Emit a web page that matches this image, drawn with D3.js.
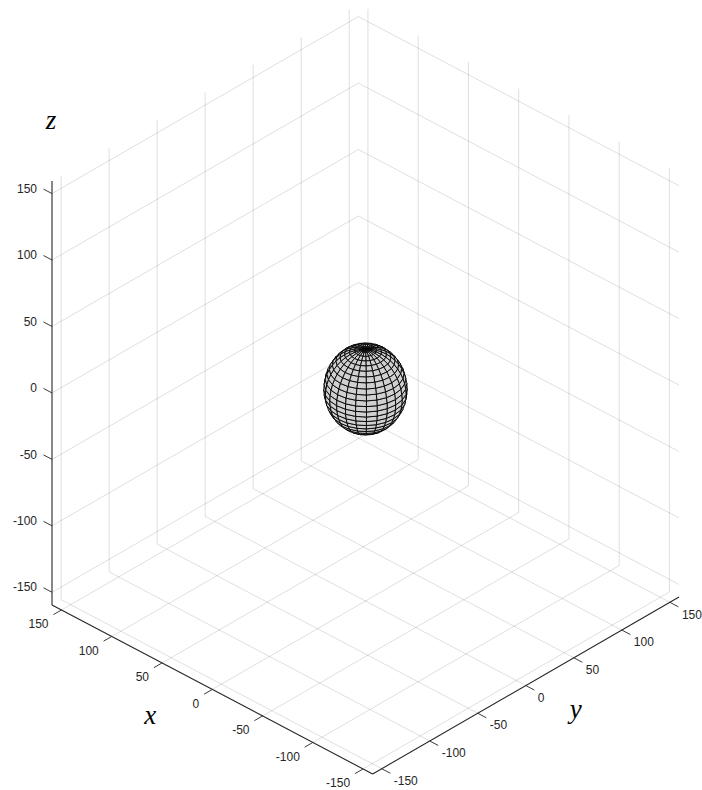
<!DOCTYPE html>
<html>
<head>
<meta charset="utf-8">
<script src="https://cdn.jsdelivr.net/npm/d3@7"></script>
<style>
  html, body { margin: 0; padding: 0; background: #ffffff; }
  svg { display: block; }
  .tick-label { font-family: "Liberation Sans", Arial, Helvetica, sans-serif; font-size: 12px; fill: #262626; }
  .axis-title { font-family: "Liberation Serif", "Times New Roman", serif; font-style: italic; font-size: 27px; fill: #000; }
</style>
</head>
<body>
<svg id="chart" width="702" height="790"></svg>
<script>
// Axis limits (same for x, y and z) and tick values
const axisLimits = [-159.5, 159.5];
const xTicks = [-150, -100, -50, 0, 50, 100, 150];
const yTicks = [-150, -100, -50, 0, 50, 100, 150];
const zTicks = [-150, -100, -50, 0, 50, 100, 150];

// Sphere drawn as a meshed surface
const sphereCenter = [0, 0, 0];
const sphereRadius = 30;
const sphereLonSegments = 24;
const sphereLatSegments = 24;

// Camera: azimuth of the viewpoint and elevation, degrees
const viewAzimuth = 43.7;
const viewElevation = 30;

const svg = d3.select("#chart");

// Data -> normalised cube [-1, 1]
const nx = d3.scaleLinear().domain(axisLimits).range([-1, 1]);
const ny = d3.scaleLinear().domain(axisLimits).range([-1, 1]);
const nz = d3.scaleLinear().domain(axisLimits).range([-1, 1]);

const a = viewAzimuth * Math.PI / 180, e = viewElevation * Math.PI / 180;
const rowH = [-Math.cos(a), Math.sin(a), 0];
const rowV = [Math.sin(e) * Math.sin(a), Math.sin(e) * Math.cos(a), Math.cos(e)];
const rowD = [-Math.cos(e) * Math.sin(a), -Math.cos(e) * Math.cos(a), Math.sin(e)];

function camera(p) {
  const u = [nx(p[0]), ny(p[1]), nz(p[2])];
  return {
    h: rowH[0] * u[0] + rowH[1] * u[1] + rowH[2] * u[2],
    v: rowV[0] * u[0] + rowV[1] * u[1] + rowV[2] * u[2],
    d: rowD[0] * u[0] + rowD[1] * u[1] + rowD[2] * u[2]
  };
}

// Plot box fills the frame: screen scales from the projected box corners
const corners = [];
for (const X of axisLimits) for (const Y of axisLimits) for (const Z of axisLimits) corners.push(camera([X, Y, Z]));
const hExt = d3.extent(corners, c => c.h), vExt = d3.extent(corners, c => c.v);
const sx = d3.scaleLinear().domain(hExt).range([52, 679]);
const sy = d3.scaleLinear().domain(vExt).range([774, 4]);

function proj(p) { const c = camera(p); return [sx(c.h), sy(c.v)]; }
const line = d3.line();

const [lo, hi] = axisLimits;

// ---- Grid on the three back planes ----
const grid = svg.append("g")
  .attr("fill", "none").attr("stroke", "#262626")
  .attr("stroke-opacity", 0.15).attr("stroke-width", 1);
const gridSegs = [];
// wall x = hi
yTicks.forEach(y => gridSegs.push([[hi, y, lo], [hi, y, hi]]));
zTicks.forEach(z => gridSegs.push([[hi, lo, z], [hi, hi, z]]));
// wall y = hi
xTicks.forEach(x => gridSegs.push([[x, hi, lo], [x, hi, hi]]));
zTicks.forEach(z => gridSegs.push([[lo, hi, z], [hi, hi, z]]));
// floor z = lo
xTicks.forEach(x => gridSegs.push([[x, lo, lo], [x, hi, lo]]));
yTicks.forEach(y => gridSegs.push([[lo, y, lo], [hi, y, lo]]));
grid.selectAll("path").data(gridSegs).join("path")
  .attr("d", s => line(s.map(proj)));

// ---- Sphere surface ----
const faces = [];
const pt = (i, j) => {
  const phi = -Math.PI / 2 + Math.PI * i / sphereLatSegments;
  const th = -Math.PI + 2 * Math.PI * j / sphereLonSegments;
  return [sphereCenter[0] + sphereRadius * Math.cos(phi) * Math.cos(th),
          sphereCenter[1] + sphereRadius * Math.cos(phi) * Math.sin(th),
          sphereCenter[2] + sphereRadius * Math.sin(phi)];
};
for (let i = 0; i < sphereLatSegments; i++) {
  for (let j = 0; j < sphereLonSegments; j++) {
    const q = [pt(i, j), pt(i + 1, j), pt(i + 1, j + 1), pt(i, j + 1)];
    const c = [0, 1, 2].map(k => d3.mean(q, p => p[k] - sphereCenter[k]));
    const facing = rowD[0] * c[0] + rowD[1] * c[1] + rowD[2] * c[2];
    if (facing < -0.5) continue;
    const depth = d3.mean(q, p => camera(p).d);
    faces.push({ q, depth });
  }
}
faces.sort((f1, f2) => f1.depth - f2.depth);
svg.append("g")
  .selectAll("path").data(faces).join("path")
  .attr("d", f => line(f.q.map(proj)) + "Z")
  .attr("fill", "#d0d0d0")
  .attr("stroke", "#000").attr("stroke-width", 0.9)
  .attr("stroke-linejoin", "round");

// ---- Axes ----
const axes = svg.append("g").attr("stroke", "#262626").attr("fill", "none");
const tickLen = 8.5;
// x axis along y = lo, z = lo
axes.append("path").attr("stroke-width", 1.1).attr("d", line([[hi, lo, lo], [lo, lo, lo]].map(proj)));
// y axis along x = lo, z = lo
axes.append("path").attr("stroke-width", 1.1).attr("d", line([[lo, lo, lo], [lo, hi, lo]].map(proj)));
// z axis along x = hi, y = lo
axes.append("path").attr("stroke-width", 1.1).attr("d", line([[hi, lo, lo], [hi, lo, hi]].map(proj)));

axes.selectAll(".xt").data(xTicks).join("path").attr("stroke-width", 0.9)
  .attr("d", v => line([[v, lo, lo], [v, lo - tickLen, lo]].map(proj)));
axes.selectAll(".yt").data(yTicks).join("path").attr("stroke-width", 0.9)
  .attr("d", v => line([[lo, v, lo], [lo - tickLen, v, lo]].map(proj)));
axes.selectAll(".zt").data(zTicks).join("path").attr("stroke-width", 0.9)
  .attr("d", v => line([[hi, lo, v], [hi + tickLen, lo, v]].map(proj)));

// ---- Tick labels ----
const labels = svg.append("g");
labels.selectAll(".xl").data(xTicks).join("text").attr("class", "tick-label")
  .attr("text-anchor", "end")
  .attr("x", v => proj([v, lo, lo])[0] - 13)
  .attr("y", v => proj([v, lo, lo])[1] + 14).attr("dy", "0.35em")
  .text(v => v);
labels.selectAll(".yl").data(yTicks).join("text").attr("class", "tick-label")
  .attr("text-anchor", "start")
  .attr("x", v => proj([lo, v, lo])[0] + 12)
  .attr("y", v => proj([lo, v, lo])[1] + 12).attr("dy", "0.35em")
  .text(v => v);
labels.selectAll(".zl").data(zTicks).join("text").attr("class", "tick-label")
  .attr("text-anchor", "end")
  .attr("x", v => proj([hi, lo, v])[0] - 15)
  .attr("y", v => proj([hi, lo, v])[1] - 5).attr("dy", "0.35em")
  .text(v => v);

// ---- Axis titles ----
const xMid = proj([0, lo, lo]), yMid = proj([lo, 0, lo]), zTop = proj([hi, lo, hi]);
svg.append("text").attr("class", "axis-title").attr("text-anchor", "middle")
  .attr("x", xMid[0] - 62).attr("y", xMid[1] + 35).text("x");
svg.append("text").attr("class", "axis-title").attr("text-anchor", "middle")
  .attr("x", yMid[0] + 50).attr("y", yMid[1] + 32).text("y");
svg.append("text").attr("class", "axis-title").attr("text-anchor", "middle")
  .attr("x", zTop[0] - 1).attr("y", zTop[1] - 52).text("z");
</script>
</body>
</html>
